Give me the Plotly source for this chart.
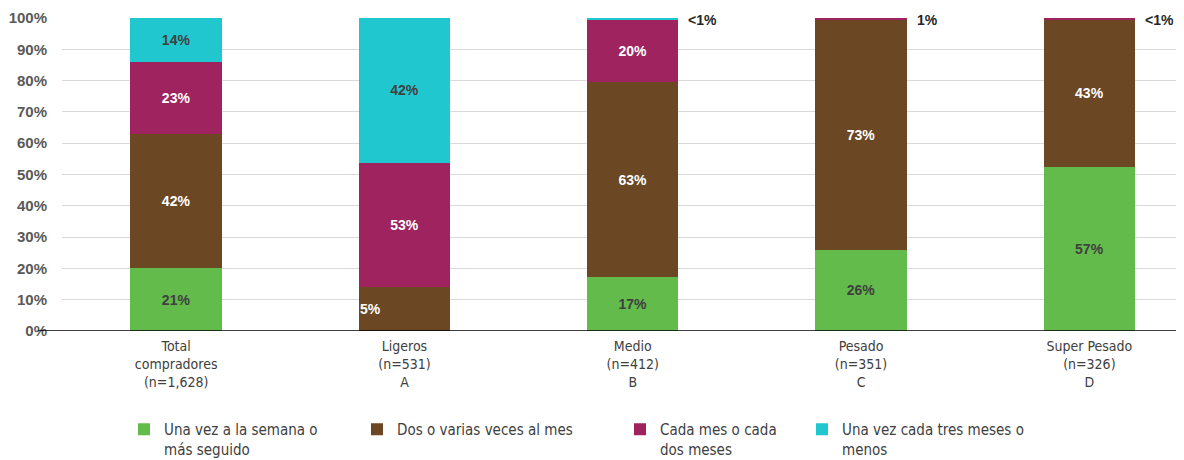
import plotly.graph_objects as go

# ---------------- data ----------------
categories = [
    "Total<br>compradores<br>(n=1,628)",
    "Ligeros<br>(n=531)<br>A",
    "Medio<br>(n=412)<br>B",
    "Pesado<br>(n=351)<br>C",
    "Super Pesado<br>(n=326)<br>D",
]
series_names = [
    "Una vez a la semana o<br>más seguido",
    "Dos o varias veces al mes",
    "Cada mes o cada<br>dos meses",
    "Una vez cada tres meses o<br>menos",
]
# drawn segment heights (%)
semana = [20.0, 0.0, 17.1, 26.0, 52.3]
varias = [43.0, 14.0, 62.5, 73.4, 47.3]
mes = [23.0, 39.8, 20.0, 0.6, 0.4]
tres = [14.0, 46.2, 0.4, 0.0, 0.0]
# printed labels
lab_semana = ["21%", "", "17%", "26%", "57%"]
lab_varias = ["42%", "5%", "63%", "73%", "43%"]
lab_mes = ["23%", "53%", "20%", "1%", "<1%"]
lab_tres = ["14%", "42%", "<1%", "", ""]
y_ticks = [0, 10, 20, 30, 40, 50, 60, 70, 80, 90, 100]

# ---------------- style ----------------
colors = ["#63BB4C", "#6B4724", "#9E235F", "#20C7CF"]
text_colors = ["#404040", "#FFFFFF", "#FFFFFF", "#404040"]
label_font = "DejaVu Sans Condensed, Liberation Sans Narrow, Roboto, sans-serif"
bold_font = "Liberation Sans, Arial, sans-serif"

OFF = 8  # default page body margin
W, H = 1184 - OFF, 460 - OFF
L, T = 62 - OFF, 18 - OFF
plot_w = 1122
plot_h = 313
R = W - L - plot_w
B = H - T - plot_h

values = [semana, varias, mes, tres]
labels = [lab_semana, lab_varias, lab_mes, lab_tres]
x_idx = list(range(len(categories)))
bar_w = 0.4

fig = go.Figure()
outside = []  # (x, text) for tiny top segments
left_labels = []  # labels drawn left-aligned
for s, (vals, labs) in enumerate(zip(values, labels)):
    txt = []
    for i, (v, lab) in enumerate(zip(vals, labs)):
        if v < 3:
            txt.append("")
            if lab:
                outside.append((i, lab))
        elif s == 1 and i == 1:
            txt.append("")
            left_labels.append((i, sum(values[k][i] for k in range(s)) + v / 2, lab))
        else:
            txt.append(lab)
    fig.add_trace(go.Bar(
        x=x_idx, y=vals, name=series_names[s], width=bar_w,
        marker=dict(color=colors[s], line=dict(width=0)),
        text=txt, textposition="inside", insidetextanchor="middle",
        textfont=dict(family=bold_font, size=14, color=text_colors[s], weight="bold"),
        legend="legend" if s == 0 else f"legend{s+1}",
        hoverinfo="skip",
    ))

annotations = []
for i, lab in outside:
    annotations.append(dict(
        x=i + bar_w / 2, y=99.5, xref="x", yref="y", text=lab, showarrow=False,
        xanchor="left", yanchor="middle", xshift=8,
        font=dict(family=bold_font, size=14, color="#262626", weight="bold"),
    ))
for i, yc, lab in left_labels:
    annotations.append(dict(
        x=i - bar_w / 2, y=yc, xref="x", yref="y", text=lab, showarrow=False,
        xanchor="left", yanchor="middle", xshift=-1,
        font=dict(family=bold_font, size=14, color="#FFFFFF", weight="bold"),
    ))

# legends positioned individually (page pixel coords)
leg_px = [124, 357, 620, 802]
leg_top = 413
leg_common = dict(orientation="h", yanchor="top", xanchor="left", valign="top",
                  font=dict(family=label_font, size=15, color="#404040"),
                  bgcolor="rgba(0,0,0,0)", borderwidth=0, tracegroupgap=0)
legends = {}
for k, px in enumerate(leg_px):
    key = "legend" if k == 0 else f"legend{k+1}"
    legends[key] = dict(x=(px - OFF - L) / plot_w,
                        y=(T + plot_h - (leg_top - OFF)) / plot_h, **leg_common)

shapes = [dict(type="line", xref="paper", yref="y",
               x0=-(62 - 38) / plot_w, x1=1, y0=0, y1=0,
               line=dict(color="#000000", width=1.5))]

fig.update_layout(
    width=W, height=H, barmode="stack",
    margin=dict(l=L, r=R, t=T, b=B, pad=0, autoexpand=False),
    plot_bgcolor="white", paper_bgcolor="white",
    showlegend=True,
    uniformtext=dict(minsize=14, mode="show"),
    annotations=annotations, shapes=shapes,
    xaxis=dict(range=[-0.5, -0.5 + plot_w / 228.3], tickvals=x_idx, ticktext=categories,
               showgrid=False, zeroline=False, showline=False, ticks="",
               ticklabelstandoff=5,
               tickfont=dict(family=label_font, size=14, color="#404040")),
    yaxis=dict(range=[0, 100], tickvals=y_ticks, ticktext=[f"{v}%" for v in y_ticks],
               showgrid=True, gridcolor="#D9D9D9", gridwidth=1, zeroline=False,
               showline=False, ticks="", ticklabelstandoff=14,
               tickfont=dict(family=bold_font, size=15, color="#595959", weight="bold")),
    **legends,
)

fig.write_html("out.html")
